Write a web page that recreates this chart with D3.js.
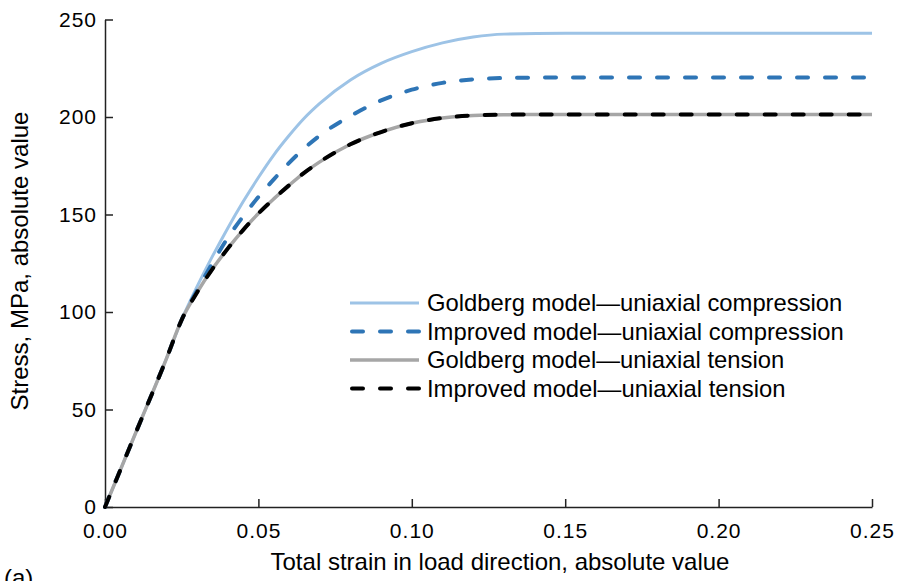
<!DOCTYPE html>
<html>
<head>
<meta charset="utf-8">
<script src="https://cdn.jsdelivr.net/npm/d3@7"></script>
<style>
  body { margin: 0; background: #fff; }
  svg text { font-family: "Liberation Sans", Arial, sans-serif; fill: #000; }
</style>
</head>
<body>
<svg id="chart" width="899" height="581"></svg>
<script>
// Strain values (shared by all series)
const strain = [0, 0.01, 0.02, 0.025, 0.03, 0.035, 0.04, 0.045, 0.05, 0.055, 0.06, 0.065, 0.07, 0.08, 0.09, 0.10, 0.11, 0.12, 0.13, 0.15, 0.20, 0.25];

// Stress values, MPa
const goldbergCompression = [0, 38, 76, 96, 113, 128.5, 143, 156.5, 169, 180.5, 190.5, 199.5, 207, 219, 227.5, 233.5, 238, 241, 242.5, 243, 243, 243];
const improvedCompression = [0, 38, 76, 96, 111, 125, 138, 149, 159, 168, 176.5, 184, 190.5, 200.5, 208.5, 214, 217.5, 219.3, 220, 220.3, 220.3, 220.3];
const goldbergTension = [0, 38, 76, 96, 110, 122, 132.5, 142, 150.5, 158, 165, 171.5, 177, 186, 192.3, 196.8, 199.5, 200.8, 201.2, 201.3, 201.3, 201.3];
const improvedTension = [0, 38, 76, 96, 110, 122, 132.5, 142, 150.5, 158, 165, 171.5, 177, 186, 192.3, 196.8, 199.5, 200.8, 201.2, 201.3, 201.3, 201.3];

const xTicks = [0, 0.05, 0.10, 0.15, 0.20, 0.25];
const yTicks = [0, 50, 100, 150, 200, 250];

const seriesNames = [
  "Goldberg model\u2014uniaxial compression",
  "Improved model\u2014uniaxial compression",
  "Goldberg model\u2014uniaxial tension",
  "Improved model\u2014uniaxial tension"
];

const series = [
  { name: seriesNames[0], values: goldbergCompression, color: "#9dc3e6", width: 3, dash: null },
  { name: seriesNames[1], values: improvedCompression, color: "#2e75b6", width: 4, dash: "11,17" },
  { name: seriesNames[2], values: goldbergTension, color: "#a6a6a6", width: 3.5, dash: null },
  { name: seriesNames[3], values: improvedTension, color: "#000000", width: 4, dash: "11,17" }
];

const svg = d3.select("#chart");

const x = d3.scaleLinear().domain([0, 0.25]).range([105, 872]);
const y = d3.scaleLinear().domain([0, 250]).range([507, 19.5]);

// Axes (ticks point inward)
const xAxis = svg.append("g")
  .attr("transform", `translate(0,${y(0)})`)
  .call(d3.axisBottom(x).tickValues(xTicks).tickFormat(d3.format(".2f"))
    .tickSizeInner(-8).tickSizeOuter(0).tickPadding(16));

const yAxis = svg.append("g")
  .attr("transform", `translate(${x(0)},0)`)
  .call(d3.axisLeft(y).tickValues(yTicks).tickFormat(d3.format("d"))
    .tickSizeInner(-8).tickSizeOuter(0).tickPadding(8));

[xAxis, yAxis].forEach((g) => {
  g.select(".domain").attr("stroke", "#222").attr("stroke-width", 1.5);
  g.selectAll(".tick line").attr("stroke", "#222").attr("stroke-width", 1.5);
  g.selectAll(".tick text").attr("font-size", "21px").attr("fill", "#000")
    .attr("letter-spacing", "1px")
    .style("font-family", "'Liberation Sans', Arial, sans-serif");
});

// Axis titles
svg.append("text")
  .attr("x", 500)
  .attr("y", 570)
  .attr("text-anchor", "middle")
  .attr("font-size", "24px")
  .text("Total strain in load direction, absolute value");

svg.append("text")
  .attr("transform", "translate(28,261) rotate(-90)")
  .attr("text-anchor", "middle")
  .attr("font-size", "24px")
  .text("Stress, MPa, absolute value");

svg.append("text")
  .attr("x", 4)
  .attr("y", 586)
  .attr("font-size", "24px")
  .text("(a)");

// Curves
const line = d3.line()
  .x((d, i) => x(strain[i]))
  .y((d) => y(d))
  .curve(d3.curveMonotoneX);

const curves = svg.append("g");
series.forEach((s) => {
  curves.append("path")
    .datum(s.values)
    .attr("d", line)
    .attr("fill", "none")
    .attr("stroke", s.color)
    .attr("stroke-width", s.width)
    .attr("stroke-dasharray", s.dash)
    .attr("stroke-linecap", s.dash ? "round" : "butt");
});

// Legend
const legend = svg.append("g");
series.forEach((s, i) => {
  const ly = 303 + i * 28.5;
  legend.append("line")
    .attr("x1", s.dash ? 352 : 350)
    .attr("x2", 419)
    .attr("y1", ly)
    .attr("y2", ly)
    .attr("stroke", s.color)
    .attr("stroke-width", s.width)
    .attr("stroke-dasharray", s.dash ? "11,17" : null)
    .attr("stroke-linecap", s.dash ? "round" : "butt");
  legend.append("text")
    .attr("x", 427)
    .attr("y", ly)
    .attr("dy", "0.35em")
    .attr("font-size", "23.8px")
    .text(s.name);
});
</script>
</body>
</html>
